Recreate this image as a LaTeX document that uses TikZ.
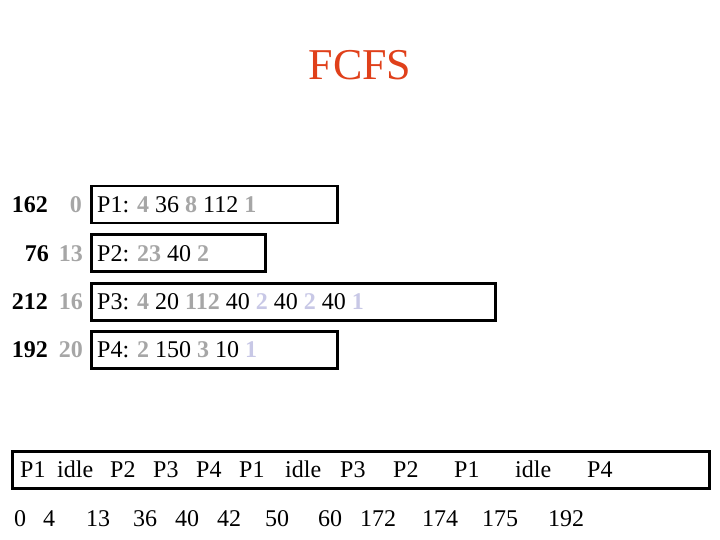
\documentclass[tikz,border=0pt]{standalone}
\usepackage{fontspec}
\setmainfont{Liberation Serif}
\definecolor{titlered}{HTML}{E0401A}
\definecolor{lg}{HTML}{A6A6A6}
\definecolor{lav}{HTML}{C8C8E6}
\newcommand\grn[1]{\textbf{\color{lg}#1}}
\newcommand\lvn[1]{\textbf{\color{lav}#1}}
\begin{document}
\begin{tikzpicture}[x=1pt,y=-1pt,
  box/.style={draw,line width=2.5pt,inner sep=0pt,minimum height=37pt,anchor=north west},
  txt/.style={inner sep=0pt,font=\fontsize{24}{28}\selectfont}]
\useasboundingbox (0,0) rectangle (720,540);
\node[inner sep=0pt,anchor=base,text=titlered,font=\fontsize{44}{50}\selectfont] (title) at (360,80) {FCFS};
% process boxes
\node[box,minimum width=246pt] (b1) at (90,185) {};
\node[box,minimum width=174pt] (b2) at (90,233) {};
\node[box,minimum width=404pt] (b3) at (90,282) {};
\node[box,minimum width=246pt] (b4) at (90,330) {};
\node[txt,anchor=base west] (t1) at (97,212) {P1: \grn{4} 36 \grn{8} 112 \grn{1}};
\node[txt,anchor=base west] (t2) at (97,261) {P2: \grn{23} 40 \grn{2}};
\node[txt,anchor=base west] (t3) at (97,309) {P3: \grn{4} 20 \grn{112} 40 \lvn{2} 40 \lvn{2} 40 \lvn{1}};
\node[txt,anchor=base west] (t4) at (97,357) {P4: \grn{2} 150 \grn{3} 10 \lvn{1}};
% left numbers
\node[txt,anchor=base east] (n1) at (48,212) {\textbf{162}};
\node[txt,anchor=base east] (a1) at (82,212) {\grn{0}};
\node[txt,anchor=base east] (n2) at (49,261) {\textbf{76}};
\node[txt,anchor=base east] (a2) at (83,261) {\grn{13}};
\node[txt,anchor=base east] (n3) at (48,309) {\textbf{212}};
\node[txt,anchor=base east] (a3) at (83,309) {\grn{16}};
\node[txt,anchor=base east] (n4) at (48,357) {\textbf{192}};
\node[txt,anchor=base east] (a4) at (83,357) {\grn{20}};
% gantt
\node[box,minimum width=697pt] (g) at (11,450) {};
\foreach \x/\l [count=\i] in {20/P1,57/idle,110/P2,153/P3,196/P4,239/P1,285/idle,340/P3,393/P2,454/P1,515/idle,587/P4}
  \node[txt,anchor=base west] (gl\i) at (\x,477) {\l};
\foreach \x/\l [count=\i] in {14/0,43/4,86/13,133/36,175/40,217/42,265/50,318/60,360/172,422/174,482/175,548/192}
  \node[txt,anchor=base west] (gn\i) at (\x,526) {\l};
\end{tikzpicture}
\end{document}
